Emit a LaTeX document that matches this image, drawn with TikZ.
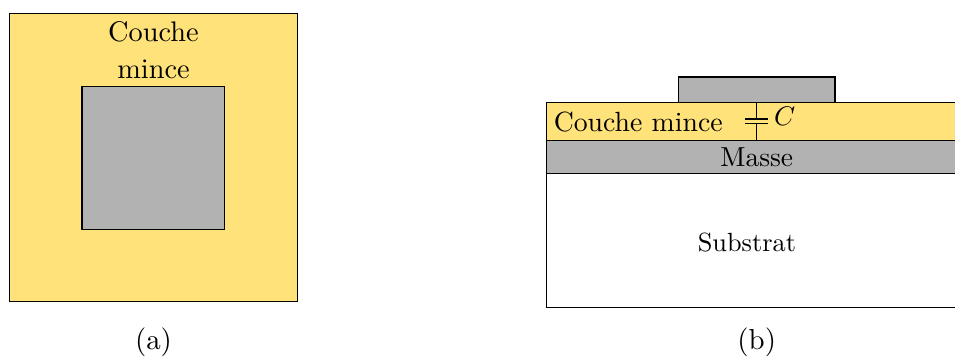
\documentclass[tikz,border=0pt]{standalone}
\usepackage{xcolor}
\definecolor{couche}{HTML}{FFE27A}
\definecolor{masse}{HTML}{B2B2B2}
\tikzset{
    label text/.style={anchor=base,inner sep=0pt},
    layer text/.style={label text,scale=0.96},
}

\begin{document}
\begin{tikzpicture}
        \clip (-0.115,-0.66) rectangle (11.489,3.666);

        \draw[fill=couche] (0,0) rectangle (3.5,3.5);
        \draw[fill=masse] (0.881,0.881) rectangle (2.615,2.615);
        \node[label text,scale=0.98] (coucheA) at (1.75,3.165) {Couche};
        \node[label text,scale=0.98] (minceA) at (1.75,2.716) {mince};
        \node[label text] (a) at (1.75,-0.577) {(a)};

        \draw (6.525,-0.075) rectangle (11.635,1.56);
        \draw[fill=masse] (6.525,1.56) rectangle (11.635,1.96);
        \draw[fill=couche] (6.525,1.96) rectangle (11.635,2.42);
        \draw[fill=masse] (8.125,2.42) rectangle (10.03,2.73);

        \draw (9.08,2.42) -- (9.08,2.22);
        \draw (8.94,2.22) -- (9.22,2.22);
        \draw (8.94,2.17) -- (9.22,2.17);
        \draw (9.08,2.17) -- (9.08,1.96);

        \node[layer text] (couche) at (7.64,2.07) {Couche mince};
        \node[label text,scale=0.93] (C) at (9.42,2.145) {$C$};
        \node[layer text,scale=0.99] (masse) at (9.08,1.646) {Masse};
        \node[label text,scale=0.91] (substrat) at (8.96,0.61) {Substrat};
        \node[label text] (b) at (9.08,-0.577) {(b)};
    \end{tikzpicture}
\end{document}
